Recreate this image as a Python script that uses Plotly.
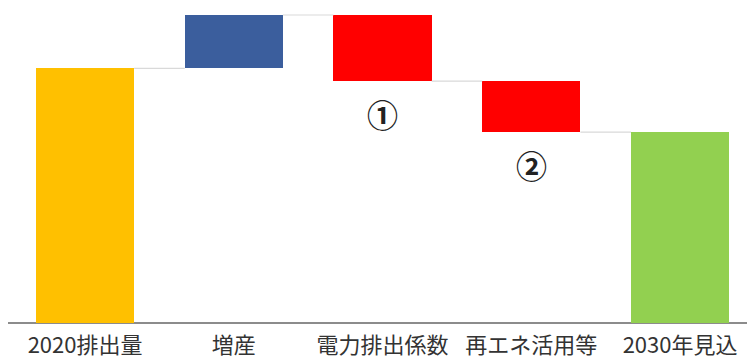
import plotly.graph_objects as go

categories = ["2020排出量", "増産", "電力排出係数", "再エネ活用等", "2030年見込"]
start_value = 100
changes = [21, -26, -20]
bar_colors = ["#FFC000", "#3B5E9D", "#FF0000", "#FF0000", "#92D050"]
step_labels = ["", "", "①", "②", ""]

# cumulative levels for the waterfall
levels = [start_value]
for c in changes:
    levels.append(levels[-1] + c)
end_value = levels[-1]

bases, heights = [0], [start_value]
for i, c in enumerate(changes):
    bases.append(min(levels[i], levels[i + 1]))
    heights.append(abs(c))
bases.append(0)
heights.append(end_value)

bar_width = 0.66
fig = go.Figure()
fig.add_trace(go.Bar(
    x=list(range(len(categories))), y=heights, base=bases,
    width=bar_width, marker=dict(color=bar_colors, line=dict(width=0)),
    hoverinfo="skip", showlegend=False,
))

# connector lines between neighbouring bars
for i in range(len(categories) - 1):
    lvl = levels[i] if i < len(levels) else end_value
    fig.add_trace(go.Scatter(
        x=[i + bar_width / 2, i + 1 - bar_width / 2], y=[lvl, lvl],
        mode="lines", line=dict(color="#D9D9D9", width=1.2),
        hoverinfo="skip", showlegend=False,
    ))

# circled step markers under the decreasing bars
for i, lab in enumerate(step_labels):
    if lab:
        fig.add_annotation(
            x=i, y=bases[i], text="<b>" + lab + "</b>", showarrow=False,
            yanchor="top", yshift=-8,
            font=dict(size=31, color="#222222", family="Noto Sans CJK JP"),
        )

fig.update_layout(
    width=747, height=362,
    margin=dict(l=8, r=0, t=0, b=39, autoexpand=False),
    paper_bgcolor="white", plot_bgcolor="white",
    bargap=0,
    font=dict(family="Noto Sans CJK JP", size=22, color="#333333"),
    xaxis=dict(
        range=[-0.518, 4.45], tickmode="array",
        tickvals=list(range(len(categories))), ticktext=categories,
        showgrid=False, zeroline=False, showline=False, ticks="",
        ticklabelstandoff=7, automargin=False,
        tickfont=dict(size=22, color="#333333"),
    ),
    yaxis=dict(
        range=[0, 126.9], showgrid=False, zeroline=True,
        zerolinecolor="#8C8C8C", zerolinewidth=1.5,
        showticklabels=False, showline=False, ticks="",
        automargin=False,
    ),
)

fig.write_html("out.html")
